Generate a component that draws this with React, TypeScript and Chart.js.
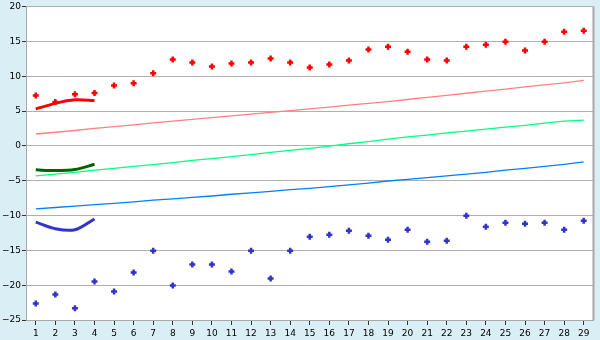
import React, { useEffect, useRef } from "react";
import { Chart, registerables } from "chart.js";

Chart.register(...registerables);

const categories = ["1","2","3","4","5","6","7","8","9","10","11","12","13","14","15","16","17","18","19","20","21","22","23","24","25","26","27","28","29"];

const redPoints = [7.24, 6.3, 7.4, 7.57, 8.67, 9.0, 10.43, 12.38, 11.95, 11.38, 11.81, 11.95, 12.52, 11.95, 11.24, 11.67, 12.24, 13.81, 14.24, 13.52, 12.38, 12.24, 14.24, 14.52, 14.95, 13.67, 14.95, 16.38, 16.52];
const bluePoints = [-22.62, -21.33, -23.33, -19.48, -20.9, -18.19, -15.05, -20.05, -17.05, -17.05, -18.05, -15.05, -19.05, -15.05, -13.05, -12.76, -12.19, -12.9, -13.48, -12.05, -13.76, -13.62, -10.05, -11.62, -11.05, -11.19, -11.05, -12.05, -10.76];
const redShort = [5.3, 6.1, 6.6, 6.5];
const greenShort = [-3.45, -3.55, -3.4, -2.65];
const blueShort = [-10.95, -11.9, -12.05, -10.5];
const pinkLine = [1.7, 1.95, 2.2, 2.5, 2.75, 3.0, 3.3, 3.55, 3.8, 4.05, 4.3, 4.55, 4.8, 5.05, 5.3, 5.55, 5.85, 6.1, 6.35, 6.65, 6.95, 7.25, 7.55, 7.85, 8.15, 8.45, 8.75, 9.05, 9.4];
const greenLine = [-4.3, -4.05, -3.8, -3.5, -3.25, -2.95, -2.7, -2.4, -2.1, -1.85, -1.55, -1.25, -0.95, -0.65, -0.35, -0.05, 0.3, 0.6, 0.95, 1.3, 1.55, 1.85, 2.1, 2.4, 2.7, 2.95, 3.25, 3.55, 3.7];
const blueLine = [-9.05, -8.85, -8.65, -8.45, -8.25, -8.05, -7.8, -7.6, -7.4, -7.2, -6.95, -6.75, -6.55, -6.3, -6.1, -5.85, -5.6, -5.35, -5.05, -4.8, -4.55, -4.3, -4.05, -3.8, -3.5, -3.25, -2.95, -2.65, -2.3];

const yMin = -25;
const yMax = 20;
const yStep = 5;

const plotBg = {
  id: "plotBg",
  beforeDraw(chart: any) {
    const { ctx, chartArea: a } = chart;
    ctx.save();
    ctx.fillStyle = "#ffffff";
    ctx.fillRect(a.left, a.top, a.right - a.left, a.bottom - a.top);
    ctx.restore();
  },
  afterDraw(chart: any) {
    const { ctx, chartArea: a } = chart;
    ctx.save();
    ctx.strokeStyle = "#a8a8a8";
    ctx.lineWidth = 2;
    ctx.beginPath();
    ctx.moveTo(a.right, a.top);
    ctx.lineTo(a.right, a.bottom);
    ctx.stroke();
    ctx.restore();
  },
};

export default function App() {
  const ref = useRef<HTMLCanvasElement>(null);
  useEffect(() => {
    const cross = (color: string) => ({
      pointStyle: "cross",
      pointRadius: 3,
      pointBorderWidth: 2.5,
      pointBorderColor: color,
      pointBackgroundColor: color,
      borderColor: color,
      showLine: false,
    });
    const font = { family: "DejaVu Sans", size: 9 };
    const chart = new Chart(ref.current!, {
      type: "line",
      data: {
        labels: categories,
        datasets: [
          { data: pinkLine, borderColor: "#ff8080", borderWidth: 1.3, pointRadius: 0, tension: 0 },
          { data: greenLine, borderColor: "#00ff80", borderWidth: 1.3, pointRadius: 0, tension: 0 },
          { data: blueLine, borderColor: "#0080ff", borderWidth: 1.3, pointRadius: 0, tension: 0 },
          { data: redShort, borderColor: "#ff0000", borderWidth: 3, pointRadius: 0, tension: 0.3 },
          { data: greenShort, borderColor: "#006400", borderWidth: 3, pointRadius: 0, tension: 0.3 },
          { data: blueShort, borderColor: "#3333cc", borderWidth: 3, pointRadius: 0, tension: 0.3 },
          { data: redPoints, ...cross("#ff0000") } as any,
          { data: bluePoints, ...cross("#3333cc") } as any,
        ],
      },
      options: {
        animation: false,
        responsive: false,
        maintainAspectRatio: false,
        layout: { padding: { top: 5, right: 5, left: 0, bottom: 0 } },
        plugins: { legend: { display: false }, tooltip: { enabled: false } },
        scales: {
          x: {
            offset: true,
            grid: { display: true, offset: false, drawOnChartArea: false, drawTicks: true, tickLength: 5, tickColor: "#333333" },
            border: { display: true, color: "#a8a8a8", width: 1 },
            ticks: { color: "#000000", font, padding: 3, maxRotation: 0, autoSkip: false },
            afterFit(s: any) { s.height = 20; s.paddingLeft = 0; s.paddingRight = 0; },
          },
          y: {
            min: yMin,
            max: yMax,
            ticks: {
              stepSize: yStep,
              color: "#000000",
              font,
              padding: 1,
              callback: (v: any) => String(v).replace("-", "\u2212"),
            },
            grid: { color: "#b0b0b0", drawTicks: true, tickLength: 4, tickColor: "#333333", lineWidth: 1 },
            border: { display: true, color: "#a8a8a8", width: 1 },
            afterFit(s: any) { s.width = 26; s.paddingTop = 0; s.paddingBottom = 0; },
          },
        },
      },
      plugins: [plotBg],
    });
    return () => chart.destroy();
  }, []);
  return (
    <div style={{ position: "fixed", left: 0, top: 0, width: 600, height: 340, background: "#d9eff5" }}>
      <canvas ref={ref} width={600} height={340} style={{ display: "block" }} />
    </div>
  );
}
